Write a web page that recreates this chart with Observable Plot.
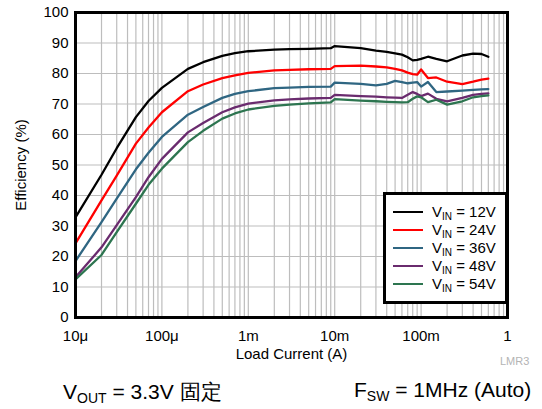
<!DOCTYPE html>
<html>
<head>
<meta charset="utf-8">
<script src="https://cdn.jsdelivr.net/npm/d3@7"></script>
<script src="https://cdn.jsdelivr.net/npm/@observablehq/plot@0.6"></script>
<style>
  body { margin: 0; background: white; }
  #wrap { position: relative; width: 542px; height: 409px; font-family: Arial, "Liberation Sans", sans-serif; color: black; }
  .abs { position: absolute; white-space: nowrap; }
  #legend { position: absolute; left: 383px; top: 192px; width: 125px; height: 112px; box-sizing: border-box; border: 3px solid black; background: white; }
  .row { position: absolute; left: 0; height: 18px; line-height: 18px; font-size: 15px; }
  .sw { position: absolute; left: 7px; width: 30px; height: 2.2px; }
  .lt { position: absolute; left: 46px; top: 0; }
  .sub15 { font-size: 10px; position: relative; top: 3px; }
  .foot { font-size: 21px; line-height: 24px; }
  .sub21 { font-size: 14px; position: relative; top: 4px; }
</style>
</head>
<body>
<div id="wrap"></div>
<script>
// Load current (A)
const current = [10e-6, 20e-6, 30e-6, 50e-6, 70e-6, 100e-6, 200e-6, 300e-6, 500e-6, 700e-6,
  1e-3, 2e-3, 3e-3, 5e-3, 9e-3, 10e-3, 20e-3, 30e-3, 40e-3, 50e-3, 60e-3, 70e-3, 80e-3, 90e-3,
  100e-3, 120e-3, 150e-3, 200e-3, 300e-3, 400e-3, 500e-3, 600e-3];
// Efficiency (%) per VIN
const eff12 = [32.8, 46.8, 55.5, 65.7, 71, 75.3, 81.5, 83.7, 85.8, 86.7, 87.3, 87.8, 88.0, 88.1, 88.3, 89.0,
  88.3, 87.5, 87.1, 86.6, 86.2, 85.3, 84.3, 84.5, 84.8, 85.5, 84.8, 84.0, 85.9, 86.5, 86.4, 85.5];
const eff24 = [24.3, 38.4, 46.5, 57.0, 62.3, 67.3, 74.2, 76.4, 78.5, 79.4, 80.2, 81.0, 81.2, 81.4, 81.5, 82.4,
  82.6, 82.3, 82.0, 81.5, 81.0, 80.3, 79.8, 79.6, 81.3, 78.5, 78.7, 77.3, 76.5, 77.3, 78.0, 78.3];
const eff36 = [18.5, 31.3, 39.0, 48.6, 54.0, 59.2, 66.5, 69.0, 72.0, 73.3, 74.2, 75.2, 75.4, 75.6, 75.7, 77.0,
  76.6, 76.1, 76.6, 77.6, 77.2, 76.8, 77.0, 77.2, 75.7, 77.2, 73.9, 74.1, 74.4, 74.6, 74.8, 74.9];
const eff48 = [13.2, 23.0, 30.3, 39.5, 46.0, 52.0, 60.7, 63.8, 67.3, 68.9, 70.1, 71.2, 71.5, 71.8, 72.0, 73.0,
  72.6, 72.4, 72.2, 72.1, 72.0, 73.0, 73.9, 73.3, 72.6, 73.4, 71.7, 70.9, 72.0, 73.0, 73.3, 73.5];
const eff54 = [12.5, 20.5, 28.0, 37.3, 43.5, 48.8, 57.5, 61.2, 65.2, 66.9, 68.2, 69.4, 69.8, 70.2, 70.5, 71.6,
  71.1, 70.9, 70.7, 70.6, 70.5, 70.6, 71.7, 72.5, 72.2, 70.6, 71.4, 69.8, 70.9, 72.2, 72.6, 72.8];

const vinValues = ["12V", "24V", "36V", "48V", "54V"];
const seriesColors = ["#000000", "#ff0000", "#2f6682", "#6a2b6e", "#2d7550"];
const xTicks = [1e-5, 1e-4, 1e-3, 1e-2, 1e-1, 1];
const xTickLabels = ["10\u03bc", "100\u03bc", "1m", "10m", "100m", "1"];
const yTicks = [0, 10, 20, 30, 40, 50, 60, 70, 80, 90, 100];
const xLabel = "Load Current (A)";
const yLabel = "Efficiency (%)";
const note = "LMR3";

const effs = [eff12, eff24, eff36, eff48, eff54];
const rows = [];
effs.forEach((arr, s) => arr.forEach((v, i) => rows.push({series: vinValues[s], current: current[i], eff: v})));

const minorTicks = d3.scaleLog().domain([1e-5, 1]).ticks();

const chart = Plot.plot({
  width: 542,
  height: 370,
  marginLeft: 75,
  marginRight: 35,
  marginTop: 12,
  marginBottom: 53,
  style: {fontFamily: "Arial, 'Liberation Sans', sans-serif", fontSize: "15px", color: "black", background: "white"},
  x: {type: "log", domain: [1e-5, 1]},
  y: {domain: [0, 100]},
  color: {domain: vinValues, range: seriesColors},
  marks: [
    Plot.gridX(minorTicks, {stroke: "#bdbdbd", strokeOpacity: 1, strokeWidth: 1.2}),
    Plot.gridY(yTicks, {stroke: "#bdbdbd", strokeOpacity: 1, strokeWidth: 1.2}),
    Plot.line(rows, {x: "current", y: "eff", z: "series", stroke: "series", strokeWidth: 2.3}),
    Plot.frame({stroke: "black", strokeWidth: 3}),
    Plot.axisX(xTicks, {tickSize: 0, tickPadding: 13, tickFormat: d => xTickLabels[xTicks.indexOf(d)],
      label: xLabel, labelAnchor: "center", labelOffset: 41, labelArrow: "none"}),
    Plot.axisY(yTicks, {tickSize: 0, tickPadding: 7, label: yLabel, labelAnchor: "center", labelOffset: 60, labelArrow: "none"})
  ]
});

const wrap = document.getElementById("wrap");
chart.style.position = "absolute";
chart.style.left = "0px";
chart.style.top = "0px";
wrap.appendChild(chart);

// legend
const legend = document.createElement("div");
legend.id = "legend";
vinValues.forEach((v, i) => {
  const r = document.createElement("div");
  r.className = "row";
  r.style.top = (211.7 + 18.1 * i - 195 - 9) + "px";
  r.style.width = "119px";
  const sw = document.createElement("div");
  sw.className = "sw";
  sw.style.background = seriesColors[i];
  sw.style.top = "8px";
  const t = document.createElement("div");
  t.className = "lt";
  t.innerHTML = "V<span class='sub15'>IN</span> = " + v;
  r.appendChild(sw);
  r.appendChild(t);
  legend.appendChild(r);
});
wrap.appendChild(legend);

const n = document.createElement("div");
n.className = "abs";
n.style.cssText = "left:500px;top:355px;font-size:11px;line-height:13px;color:#b4b4b4;";
n.textContent = note;
wrap.appendChild(n);

const f1 = document.createElement("div");
f1.className = "abs foot";
f1.style.left = "63px";
f1.style.top = "380px";
f1.innerHTML = "V<span class='sub21'>OUT</span> = 3.3V \u56fa\u5b9a";
wrap.appendChild(f1);

const f2 = document.createElement("div");
f2.className = "abs foot";
f2.style.left = "354px";
f2.style.top = "378px";
f2.innerHTML = "F<span class='sub21'>SW</span> = 1MHz (Auto)";
wrap.appendChild(f2);
</script>
</body>
</html>
